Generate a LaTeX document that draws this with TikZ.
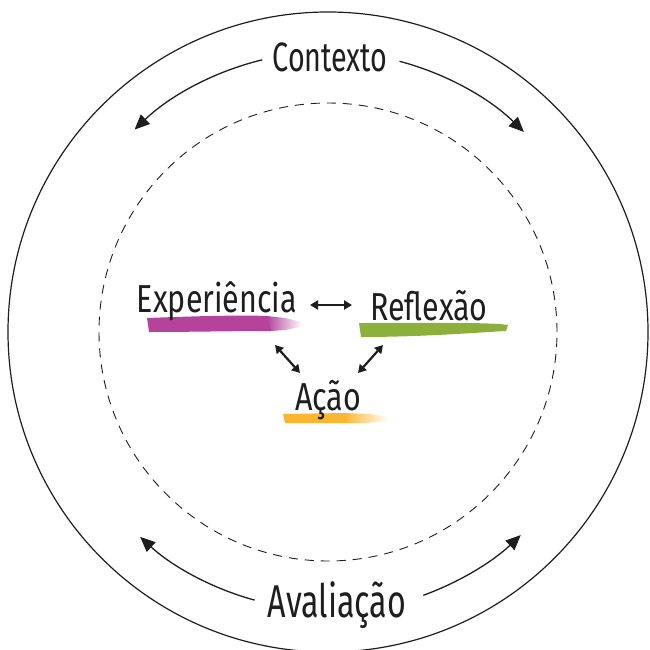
\documentclass[tikz,border=0pt]{standalone}
\usepackage{fontspec}
\newfontfamily\hand[FakeStretch=0.78]{Fira Sans}
\newfontfamily\handnarrow[FakeStretch=0.7]{Fira Sans}
\usetikzlibrary{arrows.meta,calc}
\definecolor{brushmag}{HTML}{B5439B}
\definecolor{brushgreen}{HTML}{8DAF3B}
\definecolor{brushorange}{HTML}{FBB630}
\definecolor{ink}{HTML}{1E1E1E}
\tikzset{
  label/.style={font=\hand\fontsize{39}{44}\selectfont, text=ink, inner sep=0pt, anchor=base},
  ring/.style={draw=ink, line width=1.2pt},
  dashring/.style={draw=ink, line width=0.9pt, dash pattern=on 9pt off 7pt},
  cyclearrow/.style={draw=ink, line width=1.3pt, -{Triangle[length=15pt,width=13pt]}},
  linkarrow/.style={draw=ink, line width=2.2pt, {Triangle[length=8pt,width=9pt]}-{Triangle[length=8pt,width=9pt]}}
}
\begin{document}
\begin{tikzpicture}[x=1pt,y=-1pt]
\useasboundingbox (0,0) rectangle (649,650);
\coordinate (c) at (328,332);
% circles
\draw[ring] (c) circle[radius=320pt];
\draw[dashring] (c) circle[radius=229pt];
% brush strokes
\fill[brushmag] (147,318) .. controls (200,316) and (240,315) .. (268,316) -- (272,331) .. controls (230,331) and (190,332) .. (149,332) -- cycle;
\shade[left color=brushmag, right color=white] (267,316) -- (285,318) -- (302,322) -- (300,327) -- (285,330) -- (271,331) -- cycle;
\fill[brushgreen] (359,323) .. controls (410,323) and (460,322) .. (500,324) -- (508,325) -- (506,331) .. controls (470,333) and (420,337) .. (361,337) -- cycle;
\fill[brushorange] (283,414) -- (345,413) -- (347,423) -- (285,423) -- cycle;
\shade[left color=brushorange, right color=white] (344,413) -- (370,414) -- (389,417) -- (386,421) -- (366,423) -- (346,423) -- cycle;
% labels
\node[label, font=\handnarrow\fontsize{41}{46}\selectfont] (ctx) at (330,72) {Contexto};
\node[label, font=\handnarrow\fontsize{46}{50}\selectfont] (aval) at (337,617) {Avaliação};
\node[label] (exp) at (217,312) {Experiência};
\node[label] (ref) at (429,320) {Reflexão};
\node[label] (acao) at (328,410) {Ação};
% outer cycle arrows
\draw[cyclearrow] ($(c)+(103.6:280pt)$) arc[start angle=103.6, end angle=133.7, radius=280pt];
\draw[cyclearrow] ($(c)+(75.2:280pt)$) arc[start angle=75.2, end angle=45.6, radius=280pt];
\draw[cyclearrow] ($(c)+(-105.3:278pt)$) arc[start angle=-105.3, end angle=-132.5, radius=278pt];
\draw[cyclearrow] ($(c)+(-70.1:280pt)$) arc[start angle=-70.1, end angle=-46.5, radius=280pt];
% inner links
\coordinate (er1) at (310,305);
\coordinate (er2) at (352,305);
\coordinate (ea1) at (275,345);
\coordinate (ea2) at (300,373);
\coordinate (ra1) at (383,345);
\coordinate (ra2) at (358,373);
\draw[linkarrow] (er1) -- (er2);
\draw[linkarrow] (ea1) -- (ea2);
\draw[linkarrow] (ra1) -- (ra2);
\end{tikzpicture}
\end{document}
